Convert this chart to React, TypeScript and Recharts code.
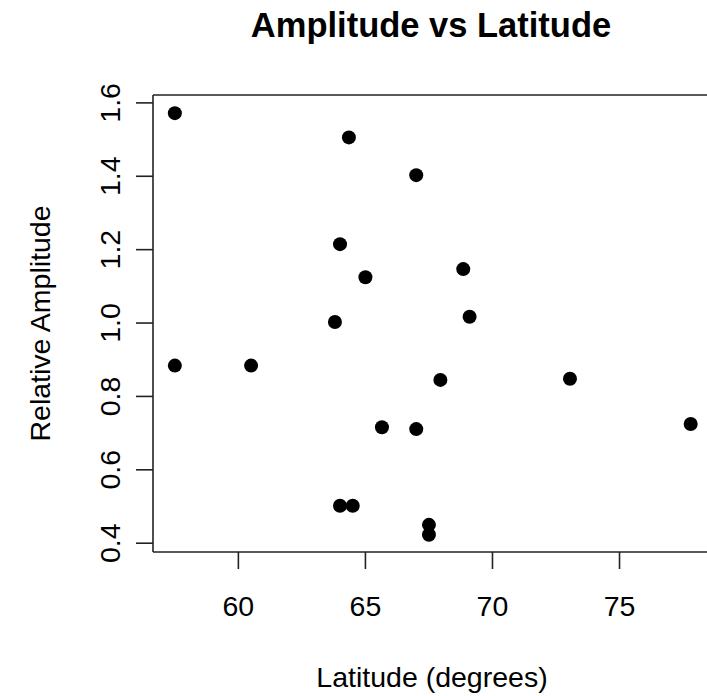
import { ScatterChart, Scatter, XAxis, YAxis, ReferenceLine } from 'recharts'

const latitude = [
    57.5, 64.35, 67.0, 64.0, 65.0, 63.8, 57.5, 60.5, 65.65, 67.0,
    64.0, 64.5, 67.5, 67.5, 67.95, 69.1, 73.05, 77.8, 68.85,
]
const amplitude = [
    1.572, 1.506, 1.403, 1.215, 1.125, 1.003, 0.884, 0.884, 0.716, 0.711,
    0.502, 0.502, 0.45, 0.423, 0.845, 1.017, 0.848, 0.725, 1.147,
]
const xTicks = [60, 65, 70, 75]
const yTicks = [0.4, 0.6, 0.8, 1.0, 1.2, 1.4, 1.6]
const xDomain: [number, number] = [56.64, 78.6]
const yDomain: [number, number] = [0.376, 1.6215]

const points = latitude.map((lat, i) => ({ lat, amp: amplitude[i] }))

const FONT = '"Liberation Sans", Arial, sans-serif'
const INK = '#222'

const YTick = (props: any) => {
    const { x, y, payload } = props
    return (
        <text
            transform={`translate(${x - 16}, ${y}) rotate(-90)`}
            textAnchor='middle'
            fontFamily={FONT}
            fontSize={28.5}
            fill='#000'
        >
            {payload.value.toFixed(1)}
        </text>
    )
}

const Dot = (props: any) => <circle cx={props.cx} cy={props.cy} r={7} fill='#000' />

export default function App() {
    return (
        <div style={{ position: 'absolute', left: 0, top: 0, background: '#fff' }}>
            <ScatterChart
                width={720}
                height={696}
                margin={{ top: 95, right: 9, bottom: 0, left: 0 }}
            >
                <text
                    x={431}
                    y={37}
                    textAnchor='middle'
                    fontFamily={FONT}
                    fontSize={34.5}
                    fontWeight='bold'
                    fill='#000'
                >
                    Amplitude vs Latitude
                </text>
                <XAxis
                    type='number'
                    dataKey='lat'
                    domain={xDomain}
                    ticks={xTicks}
                    allowDataOverflow
                    height={144}
                    tickSize={17}
                    tickMargin={27}
                    stroke={INK}
                    strokeWidth={1.6}
                    tick={{ fontFamily: FONT, fontSize: 28.5, fill: '#000' }}
                    label={{
                        content: (p: any) => (
                            <text
                                x={p.viewBox.x + p.viewBox.width / 2}
                                y={p.viewBox.y + 135}
                                textAnchor='middle'
                                fontFamily={FONT}
                                fontSize={28.5}
                                fill='#000'
                            >
                                Latitude (degrees)
                            </text>
                        ),
                    }}
                />
                <YAxis
                    type='number'
                    dataKey='amp'
                    domain={yDomain}
                    ticks={yTicks}
                    allowDataOverflow
                    width={153}
                    tickSize={17}
                    tickMargin={0}
                    stroke={INK}
                    strokeWidth={1.6}
                    tick={<YTick />}
                    label={{
                        content: (p: any) => (
                            <text
                                transform={`translate(50, ${p.viewBox.y + p.viewBox.height / 2}) rotate(-90)`}
                                textAnchor='middle'
                                fontFamily={FONT}
                                fontSize={28.5}
                                fill='#000'
                            >
                                Relative Amplitude
                            </text>
                        ),
                    }}
                />
                <ReferenceLine y={yDomain[1]} stroke={INK} strokeWidth={1.6} />
                <ReferenceLine x={xDomain[1]} stroke={INK} strokeWidth={1.6} />
                <Scatter data={points} fill='#000' shape={Dot} isAnimationActive={false} />
            </ScatterChart>
        </div>
    )
}
